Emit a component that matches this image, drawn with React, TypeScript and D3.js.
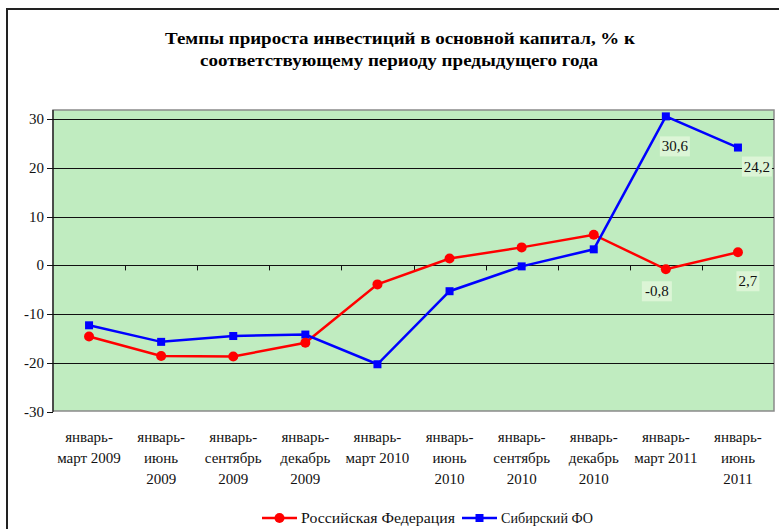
import React from "react";
import * as d3 from "d3";

const categories: string[][] = [
  ["январь-", "март 2009"],
  ["январь-", "июнь", "2009"],
  ["январь-", "сентябрь", "2009"],
  ["январь-", "декабрь", "2009"],
  ["январь-", "март 2010"],
  ["январь-", "июнь", "2010"],
  ["январь-", "сентябрь", "2010"],
  ["январь-", "декабрь", "2010"],
  ["январь-", "март 2011"],
  ["январь-", "июнь", "2011"],
];

const russia = [-14.6, -18.6, -18.7, -15.9, -3.9, 1.4, 3.7, 6.3, -0.8, 2.7];
const siberia = [-12.3, -15.7, -14.5, -14.2, -20.3, -5.3, -0.2, 3.3, 30.6, 24.2];
const yTicks = [30, 20, 10, 0, -10, -20, -30];

const seriesNames = ["Российская Федерация", "Сибирский ФО"];
const titleLines = [
  "Темпы прироста инвестиций в основной капитал, % к",
  "соответствующему периоду предыдущего года",
];

// which points get a data label: [series, index, dx, dy]
const labelled: [number, number, number, number][] = [
  [1, 8, 9, 30],
  [1, 9, 19, 19],
  [0, 8, -9, 22],
  [0, 9, 10, 29],
];

const F = { fontFamily: "Liberation Serif" };
const W = 779;
const H = 529;
const colors = ["#ff0000", "#0000ff"];

export default function App() {
  const left = 53;
  const right = 774;
  const top = 110;
  const bottom = 411;

  const x = d3
    .scaleBand<number>()
    .domain(d3.range(categories.length))
    .range([left, right]);
  const y = d3.scaleLinear().domain([-30, 30]).range([411.5, 119.3]);
  const cx = (i: number) => x(i)! + x.bandwidth() / 2;

  const data = [russia, siberia];
  const line = d3
    .line<number>()
    .x((_, i) => cx(i))
    .y((d) => y(d));

  const fmt = (v: number) => v.toFixed(1).replace(".", ",");
  const ry = (v: number) => Math.round(y(v)) + 0.5;
  const legendX = [262, 462];
  const legendLen = [154, 92];

  return (
    <svg
      width={W}
      height={H}
      style={{ position: "absolute", left: 0, top: 0, display: "block" }}
    >
      <rect width={W} height={H} fill="#fff" />
      <path d={`M7,${H + 5}V9H${W + 5}`} fill="none" stroke="#222" strokeWidth={2} />

      {/* title */}
      <text textAnchor="middle" fontWeight="bold" fontSize={17.5} fill="#000" style={F}>
        <tspan x={400} y={44} textLength={470} lengthAdjust="spacingAndGlyphs">
          {titleLines[0]}
        </tspan>
        <tspan x={399} y={66} textLength={398} lengthAdjust="spacingAndGlyphs">
          {titleLines[1]}
        </tspan>
      </text>

      {/* plot area */}
      <rect
        x={left}
        y={top}
        width={right - left}
        height={bottom - top}
        fill="#c0ecc0"
        stroke="#8a8a8a"
        strokeWidth={1.5}
      />
      {yTicks
        .filter((t) => t !== -30)
        .map((t) => (
          <line key={t} x1={left} x2={right} y1={ry(t)} y2={ry(t)} stroke="#111" strokeWidth={1} />
        ))}

      {/* y axis */}
      <line x1={left} x2={left} y1={top} y2={bottom + 1} stroke="#111" strokeWidth={1.2} />
      {yTicks.map((t) => (
        <g key={t}>
          <line x1={left - 6} x2={left} y1={ry(t)} y2={ry(t)} stroke="#111" />
          <text x={44} y={y(t) + 5} textAnchor="end" fontSize={15} fill="#111" style={F}>
            {t}
          </text>
        </g>
      ))}

      {/* category ticks on zero line */}
      {d3.range(1, categories.length).map((k) => (
        <line
          key={k}
          x1={Math.round(x(k)!) + 0.5}
          x2={Math.round(x(k)!) + 0.5}
          y1={y(0)}
          y2={y(0) + 5}
          stroke="#111"
        />
      ))}

      {/* category labels */}
      {categories.map((lines, i) => (
        <text key={i} textAnchor="middle" fontSize={15} fill="#111" style={F}>
          {lines.map((ln, j) => (
            <tspan key={j} x={cx(i)} y={442 + j * 21}>
              {ln}
            </tspan>
          ))}
        </text>
      ))}

      {/* lines */}
      {data.map((vals, s) => (
        <path key={s} d={line(vals)!} fill="none" stroke={colors[s]} strokeWidth={2.5} />
      ))}
      {siberia.map((v, i) => (
        <rect key={i} x={cx(i) - 4} y={y(v) - 4} width={8} height={8} fill={colors[1]} />
      ))}
      {russia.map((v, i) => (
        <circle key={i} cx={cx(i)} cy={y(v)} r={5} fill={colors[0]} />
      ))}

      {/* data labels */}
      {labelled.map(([s, i, dx, dy]) => {
        const v = data[s][i];
        const px = cx(i) + dx;
        const py = y(v) + dy;
        const txt = fmt(v);
        const w = txt.length * 7 + 2;
        return (
          <g key={`${s}-${i}`}>
            <rect x={px - w / 2} y={py - 10} width={w} height={20} fill="#dcf5d6" />
            <text x={px} y={py + 5} textAnchor="middle" fontSize={15} fill="#111" style={F}>
              {txt}
            </text>
          </g>
        );
      })}

      {/* legend */}
      {seriesNames.map((name, s) => {
        const lx = legendX[s];
        const ly = 518;
        return (
          <g key={name}>
            <line x1={lx} x2={lx + 35} y1={ly} y2={ly} stroke={colors[s]} strokeWidth={2.5} />
            {s === 0 ? (
              <circle cx={lx + 17.5} cy={ly} r={5} fill={colors[s]} />
            ) : (
              <rect x={lx + 13.5} y={ly - 4} width={8} height={8} fill={colors[s]} />
            )}
            <text
              x={lx + 39}
              y={ly + 5}
              fontSize={15}
              fill="#111"
              style={F}
              textLength={legendLen[s]}
              lengthAdjust="spacingAndGlyphs"
            >
              {name}
            </text>
          </g>
        );
      })}
    </svg>
  );
}
